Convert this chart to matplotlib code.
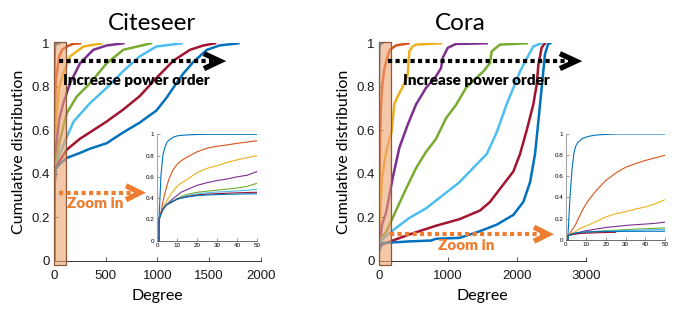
import numpy as np
import matplotlib
matplotlib.use("Agg")
import matplotlib.pyplot as plt
from matplotlib.patches import Rectangle

# ---------------- data ----------------
colors = ["#0072BD", "#D95319", "#EDB120", "#7E2F8E", "#77AC30", "#4DBEEE", "#A2142F", "#0072BD"]

# Citeseer main curves (degree, cumulative distribution)
cs_deg = [
    [0, 1, 1, 2, 3, 4, 6, 10, 20, 50],
    [0, 1, 1, 2, 4, 10, 20, 50, 80, 123, 180, 252],
    [0, 1, 1, 4, 10, 20, 50, 90, 155, 284, 461],
    [0, 1, 1, 4, 10, 20, 50, 90, 155, 252, 380, 510, 671],
    [0, 1, 1, 4, 10, 20, 50, 123, 219, 348, 510, 671, 939],
    [0, 1, 1, 4, 10, 20, 50, 120, 190, 350, 510, 670, 830, 990, 1235],
    [0, 1, 1, 4, 10, 20, 50, 123, 250, 380, 510, 670, 830, 990, 1155, 1316, 1445, 1558],
    [0, 1, 1, 4, 10, 20, 50, 123, 250, 350, 510, 670, 830, 990, 1090, 1190, 1250, 1350, 1480, 1600, 1784],
]
cs_cdf = [
    [0, 0, 0.2, 0.62, 0.81, 0.88, 0.945, 0.985, 0.998, 1],
    [0, 0, 0.2, 0.27, 0.45, 0.715, 0.835, 0.94, 0.97, 0.985, 0.997, 1],
    [0, 0, 0.2, 0.34, 0.51, 0.64, 0.8, 0.862, 0.94, 0.985, 1],
    [0, 0, 0.2, 0.325, 0.425, 0.52, 0.65, 0.724, 0.816, 0.908, 0.97, 0.99, 1],
    [0, 0, 0.2, 0.32, 0.395, 0.455, 0.54, 0.678, 0.754, 0.816, 0.908, 0.97, 1],
    [0, 0, 0.2, 0.32, 0.39, 0.44, 0.483, 0.565, 0.64, 0.725, 0.795, 0.872, 0.94, 0.985, 1],
    [0, 0, 0.2, 0.32, 0.39, 0.43, 0.455, 0.51, 0.56, 0.60, 0.64, 0.695, 0.757, 0.84, 0.92, 0.97, 0.99, 1],
    [0, 0, 0.2, 0.32, 0.39, 0.423, 0.441, 0.472, 0.495, 0.515, 0.54, 0.59, 0.635, 0.69, 0.75, 0.82, 0.86, 0.915, 0.97, 0.99, 1],
]

# Citeseer inset (degree 0-50)
cs_in_deg = [1, 1, 2, 3, 4, 5, 6, 8, 10, 12, 15, 20, 25, 30, 35, 40, 45, 50]
cs_in_cdf = [
    [0, 0.2, 0.62, 0.81, 0.88, 0.925, 0.945, 0.972, 0.985, 0.99, 0.994, 0.998, 1, 1, 1, 1, 1, 1],
    [0, 0.2, 0.27, 0.37, 0.45, 0.52, 0.58, 0.665, 0.715, 0.75, 0.785, 0.835, 0.87, 0.888, 0.9, 0.915, 0.927, 0.94],
    [0, 0.2, 0.26, 0.31, 0.34, 0.38, 0.41, 0.465, 0.51, 0.54, 0.575, 0.64, 0.68, 0.705, 0.735, 0.76, 0.78, 0.8],
    [0, 0.2, 0.26, 0.3, 0.325, 0.345, 0.36, 0.395, 0.425, 0.455, 0.48, 0.52, 0.545, 0.565, 0.58, 0.6, 0.615, 0.65],
    [0, 0.2, 0.25, 0.295, 0.32, 0.34, 0.355, 0.375, 0.395, 0.415, 0.435, 0.455, 0.465, 0.475, 0.485, 0.495, 0.51, 0.54],
    [0, 0.2, 0.25, 0.295, 0.32, 0.34, 0.35, 0.37, 0.39, 0.405, 0.425, 0.44, 0.45, 0.457, 0.462, 0.468, 0.474, 0.483],
    [0, 0.2, 0.25, 0.295, 0.32, 0.34, 0.35, 0.37, 0.39, 0.40, 0.415, 0.43, 0.437, 0.442, 0.446, 0.45, 0.453, 0.455],
    [0, 0.2, 0.25, 0.295, 0.32, 0.34, 0.35, 0.37, 0.39, 0.40, 0.41, 0.423, 0.43, 0.433, 0.436, 0.438, 0.44, 0.441],
]

# Cora main curves
co_deg = [
    [0, 1, 1, 2, 3, 5, 10, 20, 50],
    [0, 1, 1, 10, 20, 30, 50, 80, 120, 160, 250, 433],
    [0, 1, 1, 20, 50, 90, 130, 188, 226, 275, 347, 419, 443, 491, 539, 900],
    [0, 1, 1, 50, 106, 202, 299, 419, 539, 684, 828, 901, 925, 997, 1117, 1560],
    [0, 1, 1, 50, 106, 250, 395, 539, 684, 828, 973, 1117, 1262, 1407, 1512, 1609, 1633, 1753, 2139],
    [0, 1, 1, 50, 250, 443, 684, 925, 1166, 1407, 1561, 1705, 1850, 1946, 2042, 2139, 2235, 2355],
    [0, 1, 1, 25, 58, 443, 828, 1166, 1464, 1609, 1753, 1946, 2042, 2139, 2235, 2283, 2307, 2355, 2403],
    [0, 1, 1, 50, 443, 760, 828, 1166, 1464, 1705, 1946, 2090, 2187, 2259, 2307, 2355, 2403, 2451, 2480],
]
co_cdf = [
    [0, 0, 0.05, 0.4, 0.66, 0.89, 0.97, 0.996, 1],
    [0, 0, 0.05, 0.335, 0.56, 0.685, 0.8, 0.88, 0.93, 0.97, 0.99, 1],
    [0, 0, 0.05, 0.215, 0.38, 0.47, 0.53, 0.595, 0.72, 0.756, 0.80, 0.855, 0.963, 0.986, 0.994, 1],
    [0, 0, 0.05, 0.167, 0.22, 0.38, 0.52, 0.625, 0.718, 0.795, 0.848, 0.886, 0.933, 0.979, 0.997, 1],
    [0, 0, 0.04, 0.112, 0.13, 0.23, 0.33, 0.425, 0.5, 0.56, 0.655, 0.716, 0.795, 0.84, 0.87, 0.91, 0.963, 0.994, 1],
    [0, 0, 0.04, 0.097, 0.15, 0.196, 0.24, 0.30, 0.36, 0.44, 0.49, 0.59, 0.72, 0.795, 0.87, 0.93, 0.986, 1],
    [0, 0, 0.04, 0.07, 0.075, 0.12, 0.16, 0.19, 0.23, 0.27, 0.33, 0.41, 0.49, 0.6, 0.72, 0.81, 0.90, 0.98, 1],
    [0, 0, 0.04, 0.08, 0.088, 0.092, 0.1, 0.104, 0.135, 0.165, 0.21, 0.27, 0.36, 0.49, 0.64, 0.795, 0.95, 1, 1],
]

# Cora inset (degree 0-50)
co_in_deg = [1, 1, 2, 3, 4, 5, 6, 8, 10, 12, 15, 20, 25, 30, 35, 40, 45, 50]
co_in_cdf = [
    [0, 0.05, 0.4, 0.66, 0.82, 0.89, 0.92, 0.955, 0.97, 0.98, 0.99, 0.996, 1, 1, 1, 1, 1, 1],
    [0, 0.04, 0.06, 0.09, 0.12, 0.15, 0.19, 0.27, 0.335, 0.39, 0.46, 0.56, 0.63, 0.685, 0.72, 0.75, 0.775, 0.8],
    [0, 0.04, 0.05, 0.06, 0.07, 0.08, 0.095, 0.115, 0.13, 0.145, 0.17, 0.215, 0.245, 0.265, 0.29, 0.31, 0.34, 0.38],
    [0, 0.04, 0.045, 0.05, 0.055, 0.06, 0.065, 0.075, 0.085, 0.09, 0.1, 0.115, 0.125, 0.135, 0.142, 0.148, 0.155, 0.167],
    [0, 0.04, 0.045, 0.048, 0.05, 0.055, 0.058, 0.063, 0.068, 0.072, 0.078, 0.085, 0.09, 0.095, 0.1, 0.104, 0.108, 0.112],
    [0, 0.04, 0.045, 0.048, 0.05, 0.053, 0.056, 0.06, 0.065, 0.068, 0.073, 0.08, 0.084, 0.088, 0.09, 0.092, 0.095, 0.097],
    [0, 0.04, 0.045, 0.048, 0.05, 0.055, 0.057, 0.06, 0.062, 0.063, 0.065, 0.068, 0.07],
    [0, 0.04, 0.045, 0.055, 0.06, 0.065, 0.068, 0.072, 0.074, 0.075, 0.076, 0.078, 0.078, 0.079, 0.079, 0.08, 0.08, 0.08],
]

y_ticks = [0, 0.2, 0.4, 0.6, 0.8, 1]
y_ticklabels = ["0", "0.2", "0.4", "0.6", "0.8", "1"]
cs_xticks = [0, 500, 1000, 1500, 2000]
co_xticks = [0, 1000, 2000, 3000]
in_xticks = [0, 10, 20, 30, 40, 50]

titles = ["Citeseer", "Cora"]
xlabel = "Degree"
ylabel = "Cumulative distribution"
arrow_text = "Increase power order"
zoom_text = "Zoom in"

# ---------------- figure ----------------
W, H = 678, 315
fig = plt.figure(figsize=(W / 100, H / 100), dpi=100)

def fax(x0, y0, x1, y1):
    return [x0 / W, 1 - y1 / H, (x1 - x0) / W, (y1 - y0) / H]

label_font = "Lato"
tick_font = "Liberation Sans"
ORANGE = "#ED7D31"

def style_main(ax, xmax, xticks):
    ax.set_xlim(0, xmax)
    ax.set_ylim(0, 1)
    for s in ["top", "right"]:
        ax.spines[s].set_visible(False)
    for s in ["left", "bottom"]:
        ax.spines[s].set_color("0.2")
        ax.spines[s].set_linewidth(0.7)
    ax.set_xticks(xticks)
    ax.set_xticklabels([str(t) for t in xticks], fontfamily=tick_font, fontsize=9.5, color="0.1")
    ax.set_yticks(y_ticks)
    ax.set_yticklabels(y_ticklabels, fontfamily=tick_font, fontsize=9.5, color="0.1")
    ax.tick_params(axis="both", direction="in", length=3, width=0.6, color="0.2")
    ax.tick_params(axis="x", pad=7)
    ax.tick_params(axis="y", pad=3)
    ax.set_xlabel(xlabel, fontfamily=label_font, fontsize=11.5, labelpad=5)
    ax.set_ylabel(ylabel, fontfamily=label_font, fontsize=11.5, labelpad=4)
    ax.patch.set_alpha(0)

def style_inset(ax):
    ax.set_xlim(0, 50)
    ax.set_ylim(0, 1)
    for s in ["top", "right"]:
        ax.spines[s].set_visible(False)
    ax.spines["left"].set_color("0.65")
    ax.spines["left"].set_linewidth(0.8)
    ax.spines["bottom"].set_color("0.2")
    ax.spines["bottom"].set_linewidth(0.5)
    ax.set_xticks(in_xticks)
    ax.set_xticklabels([str(t) for t in in_xticks], fontfamily=tick_font, fontsize=4.5)
    ax.set_yticks(y_ticks)
    ax.set_yticklabels(y_ticklabels, fontfamily=tick_font, fontsize=4.5)
    ax.tick_params(axis="both", direction="in", length=2, width=0.4, color="0.3", pad=2)
    ax.patch.set_alpha(0)

def dotted_arrow(ax, x0, x1, y, head_w, head_h, color, lw):
    ax.plot([x0, x1 - head_w * 0.3], [y, y], color=color, lw=lw,
            linestyle=(0, (1, 0.8)), dash_capstyle="butt", zorder=6, clip_on=False)
    ax.plot([x1 - head_w, x1, x1 - head_w], [y + head_h, y, y - head_h], color=color,
            lw=lw + 0.8, solid_joinstyle="miter", solid_capstyle="butt", zorder=6, clip_on=False)

panels = [
    dict(main=fax(54, 43.3, 260.7, 260.5), inset=fax(157, 134.3, 257, 240.7), xmax=2000,
         xticks=cs_xticks, deg=cs_deg, cdf=cs_cdf, in_deg=cs_in_deg, in_cdf=cs_in_cdf,
         rect_w=116, title_x=152,
         black=(48, 1606, 0.918), orange=(48, 832, 0.312),
         txt1=(793, 0.828), txt2=(397, 0.262)),
    dict(main=fax(378.7, 43.3, 586.3, 260.5), inset=fax(566, 134, 665.3, 239.7), xmax=3000,
         xticks=co_xticks, deg=co_deg, cdf=co_cdf, in_deg=co_in_deg, in_cdf=co_in_cdf,
         rect_w=180, title_x=460,
         black=(134, 2851, 0.918), orange=(159, 2447, 0.121),
         txt1=(1406, 0.828), txt2=(1262, 0.068)),
]

for i, p in enumerate(panels):
    ax = fig.add_axes(p["main"])
    style_main(ax, p["xmax"], p["xticks"])
    for k in range(len(p["deg"])):
        ax.plot(p["deg"][k], p["cdf"][k], color=colors[k], lw=1.8, zorder=3,
                solid_joinstyle="round")
    # shaded zoom region
    rect = Rectangle((0, -0.02), p["rect_w"], 1.025, facecolor="#EEA371", alpha=0.6,
                     edgecolor="none", zorder=4, clip_on=False)
    ax.add_patch(rect)
    rect2 = Rectangle((0, -0.02), p["rect_w"], 1.025, facecolor="none",
                      edgecolor="#8C5A3A", lw=0.9, zorder=4, clip_on=False)
    ax.add_patch(rect2)
    # arrows
    sx = p["xmax"] / 206.7  # data units per pixel
    bx0, bx1, by = p["black"]
    dotted_arrow(ax, bx0, bx1, by, 16 * sx, 7.5 / 217.2, "black", 3.0)
    ox0, ox1, oy = p["orange"]
    dotted_arrow(ax, ox0, ox1, oy, 14 * sx, 7.0 / 217.2, ORANGE, 3.0)
    ax.text(p["txt1"][0], p["txt1"][1], arrow_text, ha="center", va="center",
            fontfamily=label_font, fontweight="heavy", fontsize=11, color="black", zorder=7)
    ax.text(p["txt2"][0], p["txt2"][1], zoom_text, ha="center", va="center",
            fontfamily=label_font, fontweight="heavy", fontsize=11, color=ORANGE, zorder=7)
    fig.text(p["title_x"] / W, 1 - 24 / H, titles[i], ha="center", va="center",
             fontfamily=label_font, fontsize=17.5)

    # inset
    axi = fig.add_axes(p["inset"])
    style_inset(axi)
    for k in range(len(p["in_cdf"])):
        yk = p["in_cdf"][k]
        axi.plot(p["in_deg"][:len(yk)], yk, color=colors[k], lw=0.8)

fig.savefig("out.png", dpi=100)
